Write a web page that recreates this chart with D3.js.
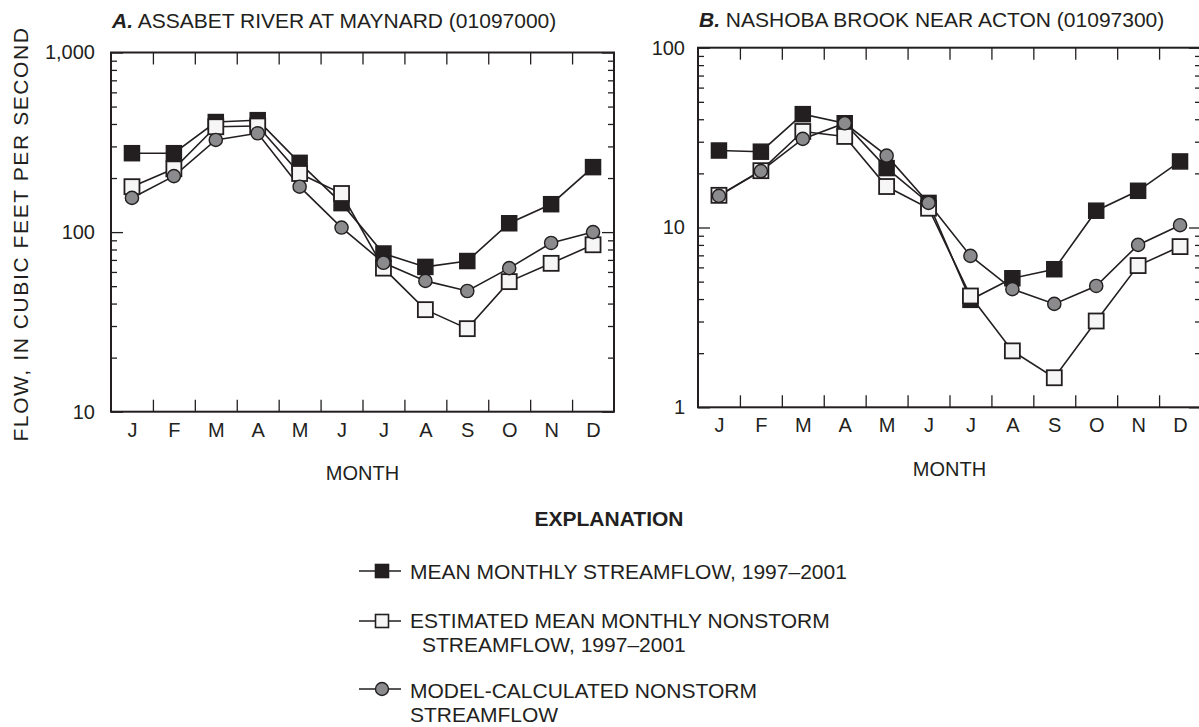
<!DOCTYPE html>
<html>
<head>
<meta charset="utf-8">
<script src="https://cdn.jsdelivr.net/npm/d3@7"></script>
<style>
  html, body { margin: 0; padding: 0; background: #fff; }
  svg { display: block; font-family: "Liberation Sans", Arial, Helvetica, sans-serif; }
</style>
</head>
<body>
<svg id="chart" width="1199" height="727"></svg>
<script>
// --- data (cubic feet per second) ---
const months = ["J", "F", "M", "A", "M", "J", "J", "A", "S", "O", "N", "D"];

const assabetMean      = [275, 275, 410, 420, 243, 145, 76, 64, 69, 112, 143, 230];
const assabetEstimated = [179, 225, 386, 390, 212, 164, 63, 37, 29, 53, 67, 85];
const assabetModel     = [155, 205, 326, 355, 179, 106, 67.5, 53.5, 47, 63, 87, 100];

const nashobaMean      = [26.8, 26.4, 42.7, 38, 21.4, 13.7, 3.96, 5.22, 5.86, 12.4, 16.0, 23.3];
const nashobaEstimated = [15.1, 20.7, 34.2, 32.1, 16.9, 12.8, 4.16, 2.06, 1.46, 3.02, 6.14, 7.83];
const nashobaModel     = [15.0, 20.6, 31.1, 38, 25.1, 13.7, 6.95, 4.54, 3.76, 4.73, 8.0, 10.3];

const ink = "#231f20";
const svg = d3.select("#chart");

// one panel = box + ticks + three series
function drawPanel(cfg) {
    const g = svg.append("g");
    const idx = d3.range(months.length);

    const x = d3.scalePoint().domain(idx).range([cfg.x0, cfg.x1]).padding(0.5);
    const xEdge = d3.scaleLinear().domain([0, 12]).range([cfg.x0, cfg.x1]);
    const y = d3.scaleLog().domain(cfg.domain).range([cfg.yBot, cfg.yTop]);

    const lo = Math.log10(cfg.domain[0]), hi = Math.log10(cfg.domain[1]);
    const majors = d3.range(lo, hi + 1).map(e => Math.pow(10, e));
    const minors = [];
    d3.range(lo, hi).forEach(e => {
        for (let k = 2; k <= 9; k++) minors.push(k * Math.pow(10, e));
    });

    function styleAxis(sel) {
        sel.select(".domain").remove();
        sel.selectAll("line").attr("stroke", ink).attr("stroke-width", 1.3);
        sel.selectAll("text").attr("fill", ink).style("font-size", "20px").attr("font-family", null);
    }

    // left axis, labels + inward ticks
    g.append("g").attr("transform", `translate(${cfg.x0},0)`)
        .call(d3.axisLeft(y).tickValues(majors).tickSizeInner(-12).tickSizeOuter(0)
            .tickPadding(cfg.labelGap).tickFormat(d3.format(",")))
        .call(styleAxis);
    g.append("g").attr("transform", `translate(${cfg.x0},0)`)
        .call(d3.axisLeft(y).tickValues(minors).tickSizeInner(-6).tickSizeOuter(0).tickFormat(""))
        .call(styleAxis);

    // right axis, ticks only
    g.append("g").attr("transform", `translate(${cfg.x1},0)`)
        .call(d3.axisRight(y).tickValues(majors).tickSizeInner(-12).tickSizeOuter(0).tickFormat(""))
        .call(styleAxis);
    g.append("g").attr("transform", `translate(${cfg.x1},0)`)
        .call(d3.axisRight(y).tickValues(minors).tickSizeInner(-6).tickSizeOuter(0).tickFormat(""))
        .call(styleAxis);

    // month boundary ticks top and bottom
    const bounds = d3.range(1, 12);
    g.append("g").attr("transform", `translate(0,${cfg.yBot})`)
        .call(d3.axisBottom(xEdge).tickValues(bounds).tickSizeInner(-12).tickSizeOuter(0).tickFormat(""))
        .call(styleAxis);
    g.append("g").attr("transform", `translate(0,${cfg.yTop})`)
        .call(d3.axisTop(xEdge).tickValues(bounds).tickSizeInner(-12).tickSizeOuter(0).tickFormat(""))
        .call(styleAxis);

    // month letters
    g.append("g").attr("transform", `translate(0,${cfg.yBot})`)
        .call(d3.axisBottom(x).tickSize(0).tickPadding(11).tickFormat(i => months[i]))
        .call(styleAxis);

    // plot box
    g.append("rect")
        .attr("x", cfg.x0).attr("y", cfg.yTop)
        .attr("width", cfg.x1 - cfg.x0).attr("height", cfg.yBot - cfg.yTop)
        .attr("fill", "none").attr("stroke", ink).attr("stroke-width", 2);

    // series lines
    const line = d3.line().x((d, i) => x(i)).y(d => y(d));
    [cfg.mean, cfg.estimated, cfg.model].forEach(vals => {
        g.append("path").datum(vals).attr("d", line)
            .attr("fill", "none").attr("stroke", ink).attr("stroke-width", 1.6);
    });

    // markers: filled squares, open squares, gray circles on top
    const s = 15;
    g.append("g").selectAll("rect").data(cfg.mean).join("rect")
        .attr("x", (d, i) => x(i) - s / 2).attr("y", d => y(d) - s / 2)
        .attr("width", s).attr("height", s)
        .attr("fill", ink).attr("stroke", ink).attr("stroke-width", 1.5);
    g.append("g").selectAll("rect").data(cfg.estimated).join("rect")
        .attr("x", (d, i) => x(i) - s / 2).attr("y", d => y(d) - s / 2)
        .attr("width", s).attr("height", s)
        .attr("fill", "#f6f6f6").attr("stroke", ink).attr("stroke-width", 1.8);
    g.append("g").selectAll("circle").data(cfg.model).join("circle")
        .attr("cx", (d, i) => x(i)).attr("cy", d => y(d)).attr("r", 6.6)
        .attr("fill", "#8b8b8d").attr("stroke", ink).attr("stroke-width", 1.4);

    // panel title
    const t = g.append("text").attr("x", cfg.x0 + 1).attr("y", cfg.titleY)
        .attr("fill", ink).style("font-size", "21px");
    t.append("tspan").attr("font-weight", "bold").attr("font-style", "italic").text(cfg.letter);
    t.append("tspan").text(" " + cfg.title);

    // x axis title
    g.append("text").attr("x", (cfg.x0 + cfg.x1) / 2).attr("y", cfg.monthTitleY)
        .attr("text-anchor", "middle").attr("fill", ink).style("font-size", "20px")
        .text("MONTH");
}

drawPanel({
    x0: 111, x1: 614, yTop: 52.5, yBot: 411.7, domain: [10, 1000],
    letter: "A.", title: "ASSABET RIVER AT MAYNARD (01097000)", titleY: 28,
    labelGap: 16, monthTitleY: 480,
    mean: assabetMean, estimated: assabetEstimated, model: assabetModel
});

drawPanel({
    x0: 698, x1: 1201, yTop: 47.7, yBot: 407.3, domain: [1, 100],
    letter: "B.", title: "NASHOBA BROOK NEAR ACTON (01097300)", titleY: 27,
    labelGap: 13, monthTitleY: 476,
    mean: nashobaMean, estimated: nashobaEstimated, model: nashobaModel
});

// shared y axis title
svg.append("text")
    .attr("transform", "translate(28,234) rotate(-90)")
    .attr("text-anchor", "middle").attr("fill", ink)
    .style("font-size", "21px").style("letter-spacing", "1.6px")
    .text("FLOW, IN CUBIC FEET PER SECOND");

// --- explanation ---
svg.append("text").attr("x", 609).attr("y", 526).attr("text-anchor", "middle")
    .attr("fill", ink).attr("font-weight", "bold").style("font-size", "21px")
    .text("EXPLANATION");

const legendRows = [
    { kind: "mean", cy: 571, lines: ["MEAN MONTHLY STREAMFLOW, 1997–2001"], baseY: 579, indent: [0] },
    { kind: "estimated", cy: 621, lines: ["ESTIMATED MEAN MONTHLY NONSTORM", "STREAMFLOW, 1997–2001"], baseY: 628, indent: [0, 12] },
    { kind: "model", cy: 689, lines: ["MODEL-CALCULATED NONSTORM", "STREAMFLOW"], baseY: 698, indent: [0, 0] }
];

const leg = svg.append("g");
legendRows.forEach(r => {
    leg.append("line").attr("x1", 359).attr("x2", 401).attr("y1", r.cy).attr("y2", r.cy)
        .attr("stroke", ink).attr("stroke-width", 1.6);
    if (r.kind === "model") {
        leg.append("circle").attr("cx", 382).attr("cy", r.cy).attr("r", 6.5)
            .attr("fill", "#8b8b8d").attr("stroke", ink).attr("stroke-width", 1.4);
    } else {
        leg.append("rect").attr("x", 382 - 6.5).attr("y", r.cy - 6.5).attr("width", 13).attr("height", 13)
            .attr("fill", r.kind === "mean" ? ink : "#f6f6f6").attr("stroke", ink).attr("stroke-width", 1.6);
    }
    r.lines.forEach((txt, k) => {
        leg.append("text").attr("x", 410 + r.indent[k]).attr("y", r.baseY + k * 24)
            .attr("fill", ink).style("font-size", "21px").text(txt);
    });
});
</script>
</body>
</html>
